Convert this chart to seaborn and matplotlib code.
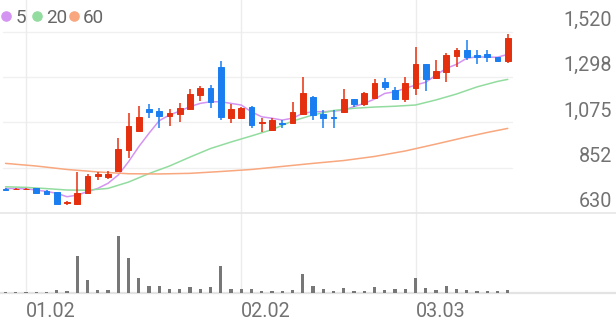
import numpy as np
import pandas as pd
import matplotlib
matplotlib.use("Agg")
import matplotlib.pyplot as plt
import matplotlib.transforms as mtransforms
import seaborn as sns

# ---------------- data ----------------
opens = [750, 746, 746, 751, 738, 732, 678, 673, 727, 812,
         806, 837, 940, 1033, 1140, 1132, 1108, 1115, 1141, 1210,
         1246, 1349, 1099, 1095, 1150, 1071, 1038, 1074, 1071, 1117,
         1202, 1117, 1104, 1125, 1189, 1165, 1197, 1273, 1235, 1191,
         1246, 1363, 1292, 1325, 1402, 1432, 1407, 1410, 1399, 1379]
highs = [753, 752, 751, 753, 743, 733, 690, 830, 822, 830,
         835, 997, 1120, 1158, 1165, 1148, 1140, 1172, 1240, 1254,
         1259, 1379, 1165, 1151, 1156, 1096, 1096, 1087, 1174, 1300,
         1205, 1136, 1136, 1238, 1189, 1226, 1287, 1292, 1251, 1300,
         1448, 1363, 1382, 1415, 1443, 1481, 1432, 1432, 1399, 1510]
lows = [743, 745, 745, 728, 721, 673, 669, 669, 726, 792,
        795, 836, 899, 1033, 1096, 1047, 1058, 1079, 1136, 1181,
        1148, 1087, 1074, 1090, 1047, 1030, 1035, 1047, 1071, 1112,
        1087, 1047, 1047, 1120, 1153, 1156, 1189, 1235, 1186, 1177,
        1210, 1230, 1289, 1273, 1349, 1382, 1361, 1371, 1371, 1366]
closes = [745, 750, 750, 730, 722, 674, 682, 730, 813, 820,
          820, 945, 1058, 1104, 1125, 1108, 1120, 1148, 1214, 1246,
          1174, 1104, 1141, 1146, 1063, 1079, 1087, 1068, 1125, 1222,
          1112, 1099, 1096, 1189, 1165, 1219, 1271, 1248, 1191, 1268,
          1363, 1289, 1330, 1407, 1432, 1396, 1399, 1396, 1379, 1489]

ma5 = [751, 750, 749, 743, 736, 727, 710, 718, 735, 751,
       776, 817, 882, 956, 1022, 1084, 1112, 1131, 1153, 1169,
       1177, 1177, 1169, 1161, 1127, 1103, 1096, 1087, 1096, 1120,
       1128, 1128, 1131, 1136, 1153, 1169, 1190, 1218, 1226, 1243,
       1259, 1273, 1308, 1341, 1361, 1391, 1398, 1396, 1396, 1410]

ma20_idx = [0, 2, 4, 6, 8, 10, 12, 14, 16, 18, 20, 22, 24,
            26, 28, 30, 32, 34, 36, 38, 40, 42, 44, 46, 48, 49]
ma20 = [759, 756, 750, 743, 742, 751, 782, 824, 861, 905, 947, 979, 1009,
        1040, 1082, 1112, 1134, 1145, 1151, 1155, 1161, 1186, 1215, 1250, 1277, 1287]

ma60_idx = [0, 3, 6, 9, 12, 15, 18, 21, 24, 27, 30, 33, 36, 39, 42, 45, 47, 49]
ma60 = [874, 861, 844, 832, 823, 822, 825, 834, 844, 859,
        874, 888, 908, 935, 969, 1004, 1026, 1046]

volume = [30, 30, 30, 30, 30, 100, 50, 1110, 400, 100,
          80, 1710, 1050, 460, 220, 200, 110, 110, 180, 110,
          180, 810, 120, 110, 110, 60, 60, 60, 100, 560,
          200, 120, 60, 160, 50, 50, 180, 100, 130, 130,
          460, 160, 80, 200, 110, 100, 50, 50, 50, 80]

date_idx = [2, 23, 40]
date_labels = ["01.02", "02.02", "03.03"]
price_ticks = [630, 852, 1075, 1298, 1520]
price_tick_labels = ["630", "852", "1,075", "1,298", "1,520"]
ma_names = ["5", "20", "60"]

# ---------------- style ----------------
RED = "#e5300f"
BLUE = "#1a7ef0"
VOL = "#777777"
C5, C20, C60 = "#d494f2", "#93dc9f", "#f8a77e"
GRID = "#f0f0f0"
TXT = "#727272"

sns.set_theme(style="white")
plt.rcParams["font.family"] = ["Roboto", "DejaVu Sans"]
plt.rcParams["patch.force_edgecolor"] = False

W, H = 616, 321
fig = plt.figure(figsize=(W / 100, H / 100), dpi=100)
ax = fig.add_axes([0, 1 - 213 / H, 1, 213 / H])
axv = fig.add_axes([0, 1 - 293 / H, 1, 80 / H], sharex=ax)

n = len(closes)
df = pd.DataFrame({"i": np.arange(n), "o": opens, "h": highs,
                   "l": lows, "c": closes, "v": volume})
up = df["c"] >= df["o"]
cols = np.where(up, RED, BLUE)

# moving average lines
sns.lineplot(x=np.arange(n), y=ma5, ax=ax, color=C5, linewidth=1.1, zorder=2)
sns.lineplot(x=ma20_idx, y=ma20, ax=ax, color=C20, linewidth=1.1, zorder=2)
sns.lineplot(x=ma60_idx, y=ma60, ax=ax, color=C60, linewidth=1.1, zorder=2)

# candles
ax.vlines(df["i"], df["l"], df["h"], colors=cols, linewidth=1.1, zorder=3)
ax.bar(df["i"], (df["c"] - df["o"]).abs(), bottom=np.minimum(df["o"], df["c"]),
       width=0.55, color=cols, edgecolor=cols, linewidth=0.7, zorder=4)

# volume
sns.barplot(x=df["i"], y=df["v"], native_scale=True, color=VOL, saturation=1,
            width=0.33, linewidth=0, edgecolor=VOL, ax=axv, zorder=3)

# axes limits (pixel layout: candle 0 at x=5.5px, spacing 10.25px)
x0 = -5.5 / 10.25
x1 = (W - 5.5) / 10.25
ax.set_xlim(x0, x1)
axv.set_xlim(x0, x1)
ax.set_ylim(630, 630 + 213 * (1520 - 630) / 181)
axv.set_ylim(0, max(volume) * 80 / 57)

# grid
for t in price_ticks[1:]:
    ax.axhline(t, xmin=3 / W, xmax=512 / W, color=GRID, linewidth=1, zorder=0)
for d in date_idx:
    ax.axvline(d, color="#ececec", linewidth=1, zorder=0)
    axv.axvline(d, color="#ececec", linewidth=1, zorder=0)

for a in (ax, axv):
    for s in a.spines.values():
        s.set_visible(False)
    a.set_yticks([])
    a.set_xlabel("")
    a.set_ylabel("")
    a.tick_params(length=0)

axv.spines["top"].set_visible(True)
axv.spines["top"].set_color("#e6e6e6")
axv.spines["top"].set_linewidth(1.2)
axv.spines["bottom"].set_visible(True)
axv.spines["bottom"].set_color("#e3e3e3")
axv.spines["bottom"].set_linewidth(1.6)

ax.tick_params(axis="x", labelbottom=False)
axv.set_xticks(date_idx)
axv.set_xticklabels(date_labels, ha="left", fontsize=14.2, color=TXT)
axv.tick_params(axis="x", pad=6.3)

# price labels, sitting above their gridlines at the right edge
trans = mtransforms.blended_transform_factory(ax.transAxes, ax.transData)
trans = mtransforms.offset_copy(trans, fig=fig, x=0, y=6 * 0.72, units="points")
for t, lab in zip(price_ticks, price_tick_labels):
    ax.text(612 / W, t, lab, transform=trans, ha="right", va="baseline",
            fontsize=14.2, color=TXT, clip_on=False)

# legend (dots + labels)
leg_dot_x = [6, 37.3, 74]
leg_txt_x = [15.5, 46, 82.5]
for name, c, dx, tx in zip(ma_names, [C5, C20, C60], leg_dot_x, leg_txt_x):
    fig.add_artist(plt.Line2D([dx / W], [1 - 15.7 / H], marker="o", markersize=6.6,
                              color=c, linestyle="none", transform=fig.transFigure))
    fig.text(tx / W, 1 - 22.7 / H, name, ha="left", va="baseline",
             fontsize=13.6, color="#666666")

fig.savefig("out.png", dpi=100)
